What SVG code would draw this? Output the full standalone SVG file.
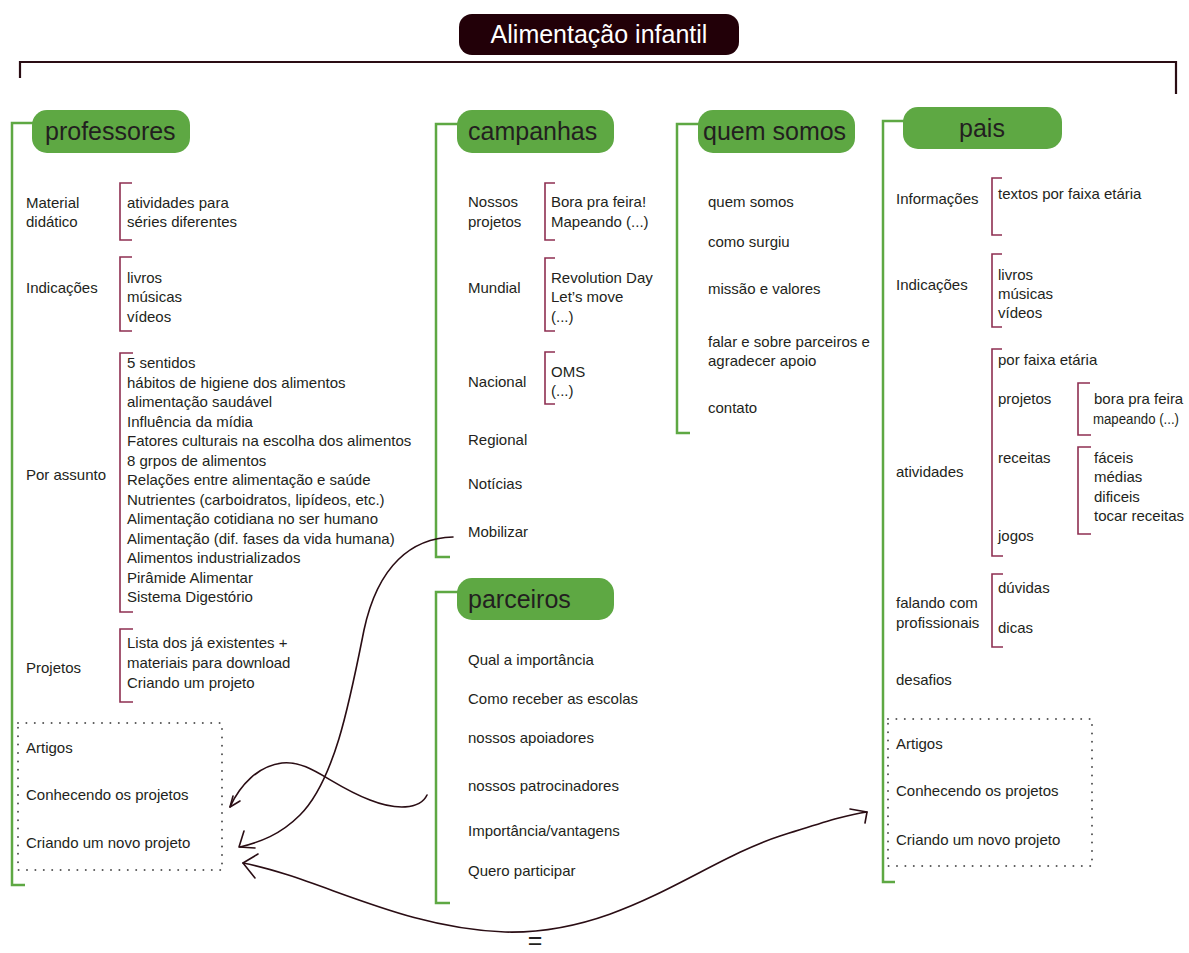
<svg xmlns="http://www.w3.org/2000/svg" width="1189" height="953" viewBox="0 0 1189 953">
<style>
text{font-family:"Liberation Sans",Arial,sans-serif;fill:#231f20}
.t{font-size:15px}
.h{font-size:25px}
.pill{fill:#5ea843}
.gl{fill:none;stroke:#5ea843;stroke-width:2.5}
.br{fill:none;stroke:#8e2f51;stroke-width:1.6}
.dot{fill:none;stroke:#555;stroke-width:2;stroke-dasharray:0 8.4;stroke-linecap:round}
.cn{fill:none;stroke:#2a0d14;stroke-width:1.6;stroke-linecap:round;stroke-linejoin:round}
</style>
<rect width="1189" height="953" fill="#fff"/>
<g id="title">
<rect x="459" y="14" width="280" height="41" rx="13" fill="#220008"/>
<text x="599" y="43" font-size="25" text-anchor="middle" style="fill:#fff">Alimentação infantil</text>
<path d="M20 78 V62 H1176 V94" fill="none" stroke="#2a0d14" stroke-width="2.2"/>
</g>
<g id="professores">
<path class="gl" d="M34 123 H12 V885 H25"/>
<rect class="pill" x="32" y="110" width="158" height="43" rx="15"/>
<text class="h" x="45" y="140">professores</text>
<text class="t" x="26" y="208">Material</text>
<text class="t" x="26" y="227">didático</text>
<path class="br" d="M132 183 H120 V240 H132"/>
<text class="t" x="127" y="208">atividades para</text>
<text class="t" x="127" y="227">séries diferentes</text>
<text class="t" x="26" y="293">Indicações</text>
<path class="br" d="M132 257 H120 V331 H132"/>
<text class="t" x="127" y="283">livros</text>
<text class="t" x="127" y="302">músicas</text>
<text class="t" x="127" y="322">vídeos</text>
<text class="t" x="26" y="480">Por assunto</text>
<path class="br" d="M133 353 H120 V612 H133"/>
<text class="t" x="127" y="368">5 sentidos</text>
<text class="t" x="127" y="387.5">hábitos de higiene dos alimentos</text>
<text class="t" x="127" y="407">alimentação saudável</text>
<text class="t" x="127" y="426.5">Influência da mídia</text>
<text class="t" x="127" y="446">Fatores culturais na escolha dos alimentos</text>
<text class="t" x="127" y="465.5">8 grpos de alimentos</text>
<text class="t" x="127" y="485">Relações entre alimentação e saúde</text>
<text class="t" x="127" y="504.5">Nutrientes (carboidratos, lipídeos, etc.)</text>
<text class="t" x="127" y="524">Alimentação cotidiana no ser humano</text>
<text class="t" x="127" y="543.5">Alimentação (dif. fases da vida humana)</text>
<text class="t" x="127" y="563">Alimentos industrializados</text>
<text class="t" x="127" y="582.5">Pirâmide Alimentar</text>
<text class="t" x="127" y="602">Sistema Digestório</text>
<text class="t" x="26" y="673">Projetos</text>
<path class="br" d="M133 629 H120 V702 H133"/>
<text class="t" x="127" y="648">Lista dos já existentes +</text>
<text class="t" x="127" y="668">materiais para download</text>
<text class="t" x="127" y="688">Criando um projeto</text>
<rect class="dot" x="18" y="723" width="204" height="147"/>
<text class="t" x="26" y="753">Artigos</text>
<text class="t" x="26" y="800">Conhecendo os projetos</text>
<text class="t" x="26" y="848">Criando um novo projeto</text>
</g>
<g id="campanhas">
<path class="gl" d="M458 124 H436 V557 H450"/>
<rect class="pill" x="457" y="110" width="157" height="43" rx="15"/>
<text class="h" x="468" y="140">campanhas</text>
<text class="t" x="468" y="207">Nossos</text>
<text class="t" x="468" y="227">projetos</text>
<path class="br" d="M555 183 H545 V240 H555"/>
<text class="t" x="551" y="207">Bora pra feira!</text>
<text class="t" x="551" y="227">Mapeando (...)</text>
<text class="t" x="468" y="293">Mundial</text>
<path class="br" d="M555 258 H545 V331 H555"/>
<text class="t" x="551" y="283">Revolution Day</text>
<text class="t" x="551" y="302">Let’s move</text>
<text class="t" x="551" y="322">(...)</text>
<text class="t" x="468" y="387">Nacional</text>
<path class="br" d="M555 352 H545 V404 H555"/>
<text class="t" x="551" y="377">OMS</text>
<text class="t" x="551" y="396">(...)</text>
<text class="t" x="468" y="445">Regional</text>
<text class="t" x="468" y="489">Notícias</text>
<text class="t" x="468" y="537">Mobilizar</text>
</g>
<g id="quem-somos">
<path class="gl" d="M699 124 H677 V433 H690"/>
<rect class="pill" x="698" y="110" width="157" height="43" rx="15"/>
<text class="h" x="703" y="140">quem somos</text>
<text class="t" x="708" y="207">quem somos</text>
<text class="t" x="708" y="247">como surgiu</text>
<text class="t" x="708" y="294">missão e valores</text>
<text class="t" x="708" y="347">falar e sobre parceiros e</text>
<text class="t" x="708" y="366">agradecer apoio</text>
<text class="t" x="708" y="413">contato</text>
</g>
<g id="parceiros">
<path class="gl" d="M458 592 H436 V903 H450"/>
<rect class="pill" x="457" y="578" width="157" height="42" rx="15"/>
<text class="h" x="468" y="608">parceiros</text>
<text class="t" x="468" y="665">Qual a importância</text>
<text class="t" x="468" y="704">Como receber as escolas</text>
<text class="t" x="468" y="743">nossos apoiadores</text>
<text class="t" x="468" y="791">nossos patrocinadores</text>
<text class="t" x="468" y="836">Importância/vantagens</text>
<text class="t" x="468" y="876">Quero participar</text>
</g>
<g id="pais">
<path class="gl" d="M904 121 H883 V882 H895"/>
<rect class="pill" x="903" y="107" width="159" height="42" rx="15"/>
<text class="h" x="982" y="137" text-anchor="middle">pais</text>
<text class="t" x="896" y="204">Informações</text>
<path class="br" d="M1002 178 H992 V235 H1002"/>
<text class="t" x="998" y="199">textos por faixa etária</text>
<text class="t" x="896" y="290">Indicações</text>
<path class="br" d="M1002 254 H992 V327 H1002"/>
<text class="t" x="998" y="280">livros</text>
<text class="t" x="998" y="299">músicas</text>
<text class="t" x="998" y="318">vídeos</text>
<text class="t" x="896" y="477">atividades</text>
<path class="br" d="M1002 349 H992 V556 H1003"/>
<text class="t" x="998" y="365">por faixa etária</text>
<text class="t" x="998" y="404">projetos</text>
<path class="br" d="M1090 383 H1078 V435 H1091"/>
<text class="t" x="1094" y="404">bora pra feira</text>
<text x="1093" y="424" font-size="14" textLength="86" lengthAdjust="spacingAndGlyphs">mapeando (...)</text>
<text class="t" x="998" y="463">receitas</text>
<path class="br" d="M1091 447 H1078 V534 H1091"/>
<text class="t" x="1094" y="463">fáceis</text>
<text class="t" x="1094" y="482">médias</text>
<text class="t" x="1094" y="502">dificeis</text>
<text class="t" x="1094" y="521">tocar receitas</text>
<text class="t" x="998" y="541">jogos</text>
<text class="t" x="896" y="608">falando com</text>
<text class="t" x="896" y="628">profissionais</text>
<path class="br" d="M1003 574 H992 V647 H1003"/>
<text class="t" x="998" y="593">dúvidas</text>
<text class="t" x="998" y="633">dicas</text>
<text class="t" x="896" y="685">desafios</text>
<rect class="dot" x="888" y="719" width="204" height="147"/>
<text class="t" x="896" y="749">Artigos</text>
<text class="t" x="896" y="796">Conhecendo os projetos</text>
<text class="t" x="896" y="845">Criando um novo projeto</text>
</g>
<g id="connectors">
<path class="cn" d="M453 537 C412 538 378 565 364 630 C350 700 335 780 300 815 C280 835 260 842 240 847"/>
<path class="cn" d="M244 831 L239 847 L255 848"/>
<path class="cn" d="M427 795 C420 810 395 810 370 800 C330 785 310 760 282 763 C258 766 240 785 230 807"/>
<path class="cn" d="M233 796 L230 807 L240 801"/>
<path class="cn" d="M243 863 C320 878 400 928 505 932 C620 935 700 862 780 836 C822 823 845 815 867 812"/>
<path class="cn" d="M258 854 L243 863 L255 878"/>
<path class="cn" d="M850 809 L867 812 L865 823"/>
<text x="535" y="949" font-size="25" text-anchor="middle">=</text>
</g>
</svg>
